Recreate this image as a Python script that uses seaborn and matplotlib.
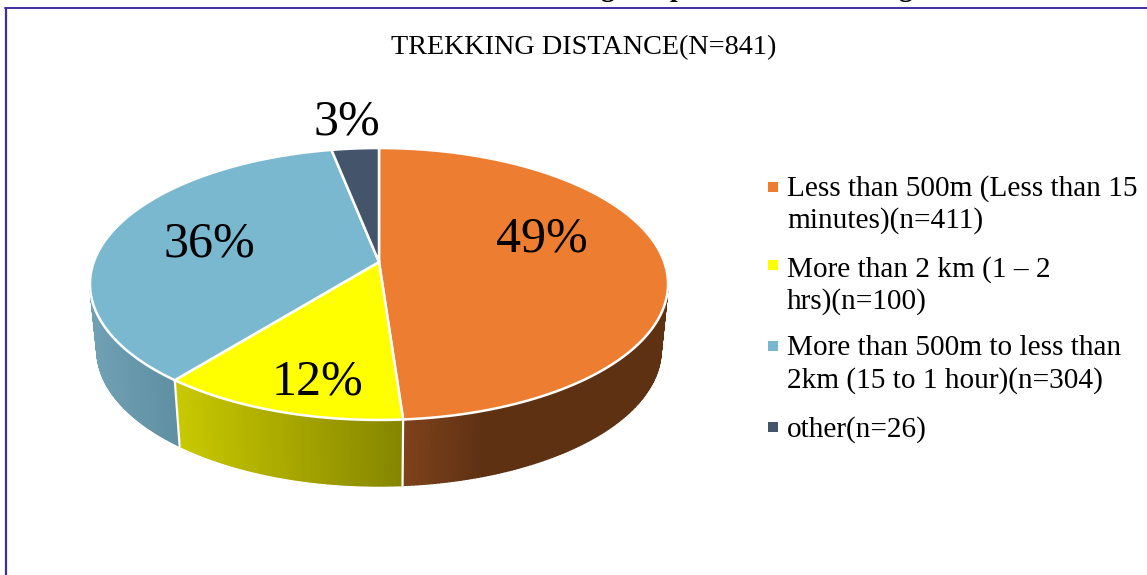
"""trekking distance pie"""

import numpy as np
import matplotlib
matplotlib.use("Agg")
import matplotlib.pyplot as plt
from matplotlib.path import Path
from matplotlib.transforms import Affine2D, Transform
import matplotlib.colors as mcolors
import seaborn as sns

sns.set_theme(style="white")
plt.rcParams["font.family"] = ["Liberation Serif", "DejaVu Serif"]

title = "TREKKING DISTANCE(N=841)"
counts = [411, 100, 304, 26]
legend_labels = [
    "Less than 500m (Less than 15\nminutes)(n=411)",
    "More than 2 km (1 – 2\nhrs)(n=100)",
    "More than 500m to less than\n2km (15 to 1 hour)(n=304)",
    "other(n=26)",
]
colors = ["#ED7D31", "#FFFF00", "#7AB8CF", "#44546A"]
# side wall colours, (fraction along the wall from left to right, colour)
wall_colors = [
    [(0.0, "#7E421B"), (0.3, "#5F3113"), (1.0, "#5F3113")],
    [(0.0, "#C9C900"), (1.0, "#858500")],
    [(0.0, "#6FA0B4"), (1.0, "#5F8FA2")],
    None,
]

# layout in pixels
CX, APEX_Y = 379, 262
SCALE_X, SCALE_Y, TILT = 285.2, 132.4, 0.1618
DEPTH, BOTTOM_SHRINK = 66, 0.976
label_pos = [(542, 239), (317, 382), (209, 244), (347, 122)]
legend_marker_y = [187, 265, 346, 427]
legend_text_y = [187, 268, 347, 428]
LINE = "#3F2E9E"


def project(u, v):
    d = 1 + TILT * v
    return CX + SCALE_X * u / d, APEX_Y - SCALE_Y * v / d


class Tilted(Transform):
    input_dims = output_dims = 2

    def transform_non_affine(self, values):
        x, y = project(values[:, 0], values[:, 1])
        return np.column_stack([x, y])

    def transform_path_non_affine(self, path):
        # flatten the bezier arcs first, they do not survive the projection
        big = Affine2D().scale(2000).transform_path(path)
        poly = big.to_polygons(closed_only=False)[0] / 2000
        return Path(self.transform_non_affine(poly))


fig, ax = plt.subplots(figsize=(11.47, 5.75), dpi=100)
fig.subplots_adjust(0, 0, 1, 1)

wedges, _ = ax.pie(
    counts, colors=colors, startangle=90, counterclock=False,
    wedgeprops={"edgecolor": "white", "linewidth": 1.8, "zorder": 5},
)
ax.set_aspect("auto")
ax.set_xlim(0, 1147)
ax.set_ylim(575, 0)
ax.axis("off")

tilted = Tilted() + ax.transData
for w in wedges:
    w.set_transform(tilted)

# side walls, only the part of the rim that faces the viewer
limit_r = np.arccos(-TILT)
limit_l = 2 * np.pi - limit_r
edges = np.cumsum([0] + counts) / sum(counts) * 2 * np.pi


def rim(t):
    x, y = project(np.sin(t), np.cos(t))
    return x, y, CX + (x - CX) * BOTTOM_SHRINK, y + DEPTH


for i, stops in enumerate(wall_colors):
    a, b = max(edges[i], limit_r), min(edges[i + 1], limit_l)
    if stops is None or a >= b:
        continue
    cmap = mcolors.LinearSegmentedColormap.from_list("wall", stops)
    t = np.linspace(a, b, 120)
    x, y, x2, y2 = rim(t)
    lo, hi = x.min(), x.max()
    for j in range(len(t) - 1):
        c = cmap((0.5 * (x[j] + x[j + 1]) - lo) / (hi - lo))
        ax.fill([x[j], x[j + 1], x2[j + 1], x2[j]], [y[j], y[j + 1], y2[j + 1], y2[j]],
                color=c, lw=1.0, zorder=2)

for t in edges[1:3]:
    x, y, x2, y2 = rim(t)
    ax.plot([x, x2], [y, y2], color="white", lw=1.6, zorder=3)

# percent labels
for v, (px, py) in zip(counts, label_pos):
    ax.text(px, py, f"{round(v / sum(counts) * 100)}%", fontsize=36, color="black",
            ha="center", va="center", zorder=6)

ax.text(583.5, 48, title, fontsize=20.3, color="black", ha="center", va="center")

# legend
for c, lab, my, ty in zip(colors, legend_labels, legend_marker_y, legend_text_y):
    ax.scatter([773], [my], marker="s", s=50, color=c, linewidths=0, zorder=6)
    ax.text(787, ty - 12, lab, fontsize=21.1, color="black", ha="left", va="top", linespacing=1.27)

# page frame and the line of text cut off above it
ax.plot([6, 6], [8, 575], color=LINE, lw=1.6, clip_on=False)
ax.plot([5, 1147], [8, 8], color=LINE, lw=1.4, clip_on=False)
for ch, px in zip("gpg", [607, 677, 905]):
    ax.text(px, -4, ch, fontsize=20, fontweight="bold", color="black", ha="center", va="baseline")

fig.savefig("out.png", dpi=100, facecolor="white")
